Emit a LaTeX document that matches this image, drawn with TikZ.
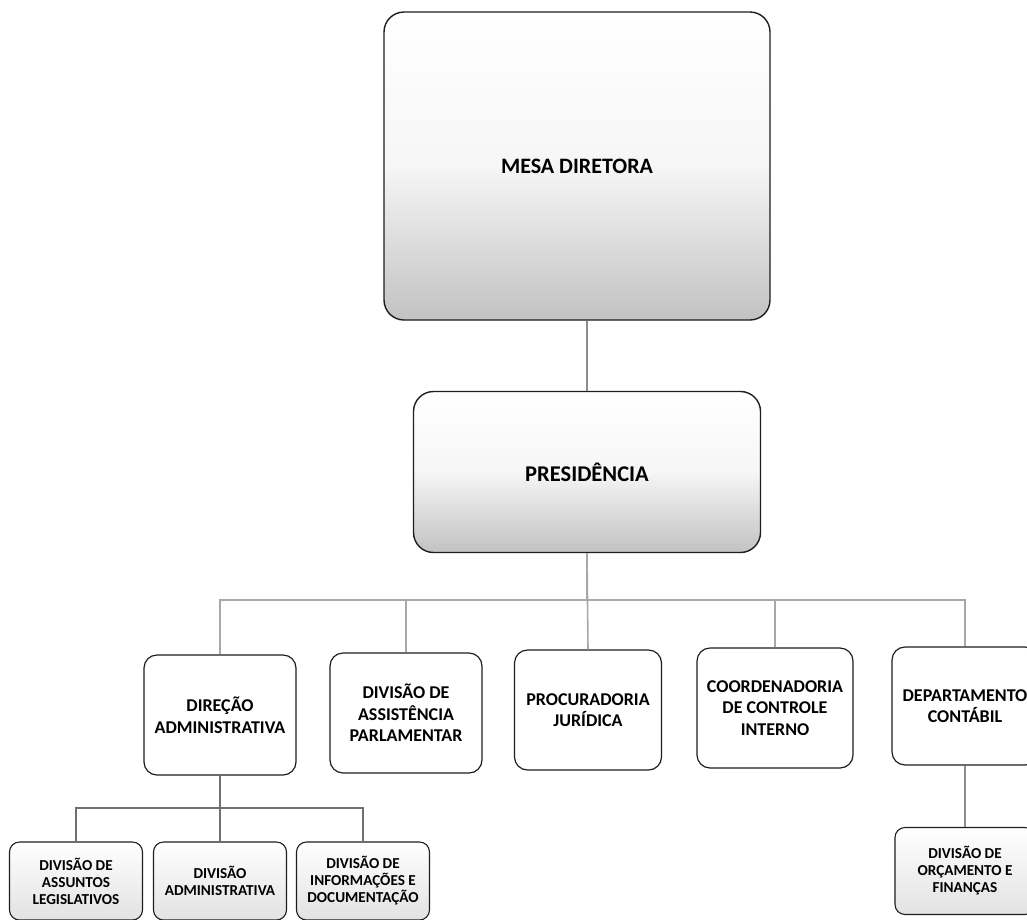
\documentclass[tikz,border=0pt]{standalone}
\usepackage{fontspec}
\setmainfont{Carlito}
\definecolor{boxline}{HTML}{1E1E1E}
\definecolor{lightconn}{HTML}{A8A8A8}
\definecolor{darkconn}{HTML}{707070}
\definecolor{shadebot}{HTML}{C2C2C2}
\definecolor{shadebot2}{HTML}{E2E2E2}
\tikzset{
  bigbox/.style={draw=boxline, line width=1.4pt, rounded corners=20pt, top color=white, bottom color=shadebot, middle color=white!85!shadebot, align=center, font=\bfseries\fontsize{22}{26}\selectfont, inner sep=0pt},
  midbox/.style={draw=boxline, line width=1.2pt, rounded corners=13pt, fill=white, align=center, font=\bfseries\fontsize{18}{21.5}\selectfont, inner sep=0pt},
  smallbox/.style={draw=boxline, line width=1.1pt, rounded corners=10pt, top color=white, bottom color=shadebot2, align=center, font=\bfseries\fontsize{15.2}{17}\selectfont, inner sep=0pt},
  lconn/.style={draw=lightconn, line width=1.6pt},
  dconn/.style={draw=darkconn, line width=2.2pt},
  mconn/.style={draw=darkconn!80, line width=1.8pt}
}
\begin{document}
\begin{tikzpicture}[x=1pt,y=-1pt]
\useasboundingbox (0,0) rectangle (1027,919);
\clip (0,0) rectangle (1027,919);
\fill[white] (0,0) rectangle (1027,919);

% top level
\node[bigbox, minimum width=386pt, minimum height=308pt] (mesa) at (577,166) {MESA DIRETORA};
\node[bigbox, minimum width=347pt, minimum height=161pt, font=\bfseries\fontsize{22.5}{26}\selectfont] (pres) at (587,472) {PRESIDÊNCIA};

% second level
\node[midbox, minimum width=152pt, minimum height=120pt] (dir) at (220,715) {DIREÇÃO\\ADMINISTRATIVA};
\node[midbox, minimum width=152pt, minimum height=120pt] (assist) at (406,713) {DIVISÃO DE\\ASSISTÊNCIA\\PARLAMENTAR};
\node[midbox, minimum width=147pt, minimum height=120pt] (proc) at (588,710) {PROCURADORIA\\JURÍDICA};
\node[midbox, minimum width=156pt, minimum height=120pt] (coord) at (775,708) {COORDENADORIA\\DE CONTROLE\\INTERNO};
\node[midbox, minimum width=146pt, minimum height=118pt] (dept) at (965,706) {DEPARTAMENTO\\CONTÁBIL};

% third level
\node[smallbox, minimum width=133pt, minimum height=78pt] (assuntos) at (76,881) {DIVISÃO DE\\ASSUNTOS\\LEGISLATIVOS};
\node[smallbox, minimum width=133pt, minimum height=78pt] (divadm) at (220,881) {DIVISÃO\\ADMINISTRATIVA};
\node[smallbox, minimum width=133pt, minimum height=78pt] (info) at (363,881) {DIVISÃO DE\\INFORMAÇÕES E\\DOCUMENTAÇÃO};
\node[smallbox, minimum width=140pt, minimum height=87pt] (orc) at (965,871) {DIVISÃO DE\\ORÇAMENTO E\\FINANÇAS};

% connectors
\draw[mconn] (pres.north) -- (pres.north |- mesa.south);
\draw[lconn] (pres.south) -- ++(0,47) -| (dir.north);
\draw[lconn] (pres.south) -- ++(0,47) -| (assist.north);
\draw[lconn] (pres.south) -- (proc.north);
\draw[lconn] (pres.south) -- ++(0,47) -| (coord.north);
\draw[lconn] (pres.south) -- ++(0,47) -| (dept.north);

\draw[dconn] (dir.south) -- ++(0,32) -| (assuntos.north);
\draw[dconn] (dir.south) -- (divadm.north);
\draw[dconn] (dir.south) -- ++(0,32) -| (info.north);

\draw[mconn] (dept.south) -- (dept.south |- orc.north);
\end{tikzpicture}
\end{document}
